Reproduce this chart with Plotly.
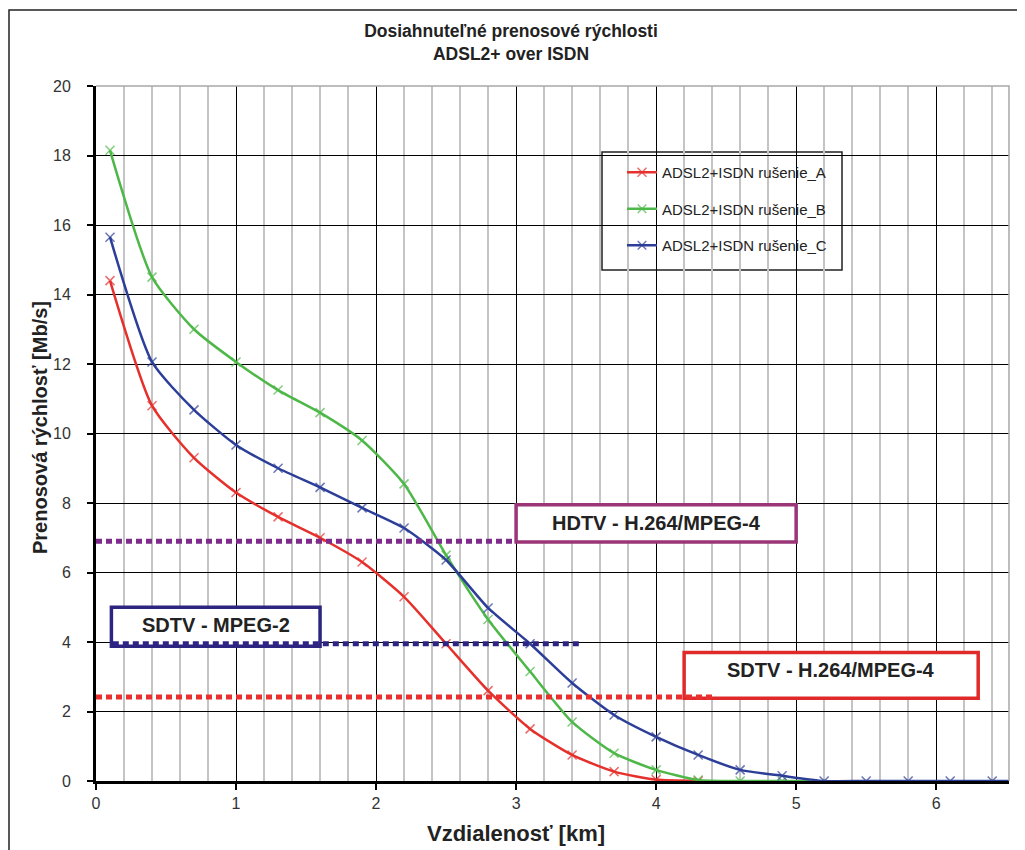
import plotly.graph_objects as go

# distance [km] and rate [Mb/s]
dist_a = [0.1, 0.4, 0.7, 1.0, 1.3, 1.6, 1.9, 2.2, 2.5, 2.8, 3.1, 3.4, 3.7, 4.0, 4.3]
rate_a = [14.4, 10.8, 9.3, 8.3, 7.6, 7.0, 6.3, 5.3, 3.95, 2.6, 1.5, 0.75, 0.27, 0.04, 0.0]

dist_b = [0.1, 0.4, 0.7, 1.0, 1.3, 1.6, 1.9, 2.2, 2.5, 2.8, 3.1, 3.4, 3.7, 4.0, 4.3, 4.6, 4.9, 5.1]
rate_b = [18.15, 14.5, 13.0, 12.06, 11.25, 10.6, 9.8, 8.55, 6.5, 4.65, 3.15, 1.7, 0.8, 0.32, 0.03, 0.0, 0.0, 0.0]

dist_c = [0.1, 0.4, 0.7, 1.0, 1.3, 1.6, 1.9, 2.2, 2.5, 2.8, 3.1, 3.4, 3.7, 4.0, 4.3,
          4.6, 4.9, 5.2, 5.5, 5.8, 6.1, 6.4, 6.6]
rate_c = [15.65, 12.06, 10.68, 9.67, 9.0, 8.45, 7.86, 7.28, 6.36, 4.98, 3.95, 2.82, 1.9,
          1.27, 0.75, 0.32, 0.15, 0.0, 0.0, 0.0, 0.0, 0.0, 0.0]

series_names = ["ADSL2+ISDN rušenie_A", "ADSL2+ISDN rušenie_B", "ADSL2+ISDN rušenie_C"]

# required rates for the services (label, rate, x start, x end)
service_labels = ["HDTV - H.264/MPEG-4", "SDTV - MPEG-2", "SDTV - H.264/MPEG-4"]
service_rates = [6.9, 3.95, 2.42]
service_from = [0.0, 0.12, 0.0]
service_to = [3.0, 3.47, 4.4]

colors = {
    "a": "#E5302C",
    "b": "#4DB848",
    "c": "#2C3E98",
}
service_line_colors = ["#7E2C8C", "#2E2483", "#E8302E"]
service_box_colors = ["#9B3577", "#2D2580", "#E02A2A"]
# label boxes (x0, x1, y0, y1) in data units, and text centre
service_boxes = [(3.0, 5.0, 6.88, 7.95), (0.11, 1.6, 3.88, 5.0), (4.2, 6.3, 2.38, 3.7)]
service_text = [(4.0, 7.42), (0.86, 4.49), (5.25, 3.19)]

FONT = "Liberation Sans, Arial, sans-serif"
W, H = 1025, 850
OFF = 8  # page body margin: screen px = figure px + 8
# plot area in screen pixels
X_LEFT, X_RIGHT, Y_TOP, Y_BOTTOM = 96, 1009, 86, 781
L, R = X_LEFT - OFF, W - (X_RIGHT - OFF)
T, B = Y_TOP - OFF, H - (Y_BOTTOM - OFF)
PW, PH = X_RIGHT - X_LEFT, Y_BOTTOM - Y_TOP


def px(x):
    return (x - X_LEFT) / PW


def py(y):
    return (Y_BOTTOM - y) / PH


fig = go.Figure()

curves = [
    (dist_a, rate_a, colors["a"], series_names[0]),
    (dist_b, rate_b, colors["b"], series_names[1]),
    (dist_c, rate_c, colors["c"], series_names[2]),
]
for i, (xs, ys, col, name) in enumerate(curves):
    sizes = [9] * len(xs)
    if name != series_names[0]:
        sizes[-1] = 0  # line runs on past the last marker
    fig.add_trace(go.Scatter(
        x=xs, y=ys, mode="lines+markers", name=name,
        legendgroup=name,
        line=dict(color=col, width=2.5, shape="spline", smoothing=0.6),
        marker=dict(symbol="x-thin", size=sizes, color=col, line=dict(color=col, width=1.5)),
    ))

# service threshold dotted lines
for i in range(3):
    fig.add_trace(go.Scatter(
        x=[service_from[i], service_to[i]],
        y=[service_rates[i], service_rates[i]],
        mode="lines", showlegend=False, hoverinfo="skip",
        line=dict(color=service_line_colors[i], width=5, dash="6px,4px"),
    ))

shapes = []
annotations = []
for i in range(3):
    x0, x1, y0, y1 = service_boxes[i]
    shapes.append(dict(
        type="rect", xref="x", yref="y", x0=x0, x1=x1, y0=y0, y1=y1,
        fillcolor="white", line=dict(color=service_box_colors[i], width=3.5),
        layer="between",
    ))
    tx, ty = service_text[i]
    annotations.append(dict(
        x=tx, y=ty, xref="x", yref="y", text="<b>%s</b>" % service_labels[i],
        showarrow=False, font=dict(family=FONT, size=20, color="#222222"),
    ))

# legend frame
shapes.append(dict(
    type="rect", xref="paper", yref="paper",
    x0=px(602), x1=px(842), y0=py(270), y1=py(152),
    fillcolor="white", line=dict(color="#222222", width=1.5), layer="between",
))
# light top / right border of plot area
shapes.append(dict(
    type="path", xref="paper", yref="paper",
    path="M 0,1 L 1,1 L 1,0", line=dict(color="#A8A8A8", width=1.5), layer="above",
))
# outer frame of the whole chart
shapes.append(dict(
    type="rect", xref="paper", yref="paper",
    x0=px(9), x1=px(1050), y0=py(880), y1=py(10),
    line=dict(color="#222222", width=1.5), fillcolor="rgba(0,0,0,0)", layer="below",
))

# axis titles
annotations.append(dict(
    x=3.0, y=py(833), xref="x", yref="paper", text="<b>Vzdialenosť [km]</b>",
    showarrow=False, font=dict(family=FONT, size=22, color="#222222"),
    xanchor="center", yanchor="middle",
))
annotations.append(dict(
    x=px(40), y=py(428), xref="paper", yref="paper",
    text="<b>Prenosová rýchlosť [Mb/s]</b>", textangle=-90,
    showarrow=False, font=dict(family=FONT, size=20, color="#222222"),
    xanchor="center", yanchor="middle",
))

fig.update_layout(
    width=W, height=H,
    title=dict(
        text="<b>Dosiahnuteľné prenosové rýchlosti<br>ADSL2+ over ISDN</b>",
        x=(511 - OFF) / W, xanchor="center", y=1 - 29 / H, yanchor="top",
        font=dict(family=FONT, size=17.5, color="#222222"),
    ),
    paper_bgcolor="white",
    plot_bgcolor="white",
    font=dict(family=FONT, size=16, color="#333333"),
    margin=dict(l=L, r=R, t=T, b=B, autoexpand=False),
    showlegend=True,
    legend=dict(
        x=px(622), y=py(156), xanchor="left", yanchor="top",
        bgcolor="rgba(0,0,0,0)", borderwidth=0,
        font=dict(family=FONT, size=15, color="#222222"),
        tracegroupgap=14,
    ),
    shapes=shapes,
    annotations=annotations,
)

fig.update_xaxes(
    range=[0, 6.52], dtick=1, tick0=0,
    showline=True, linecolor="black", linewidth=3,
    ticks="outside", ticklen=6, tickwidth=2, tickcolor="black",
    showgrid=True, gridcolor="black", gridwidth=1,
    minor=dict(dtick=0.2, tick0=0, showgrid=True, gridcolor="#C4C4C4", gridwidth=1.5),
    zeroline=False, tickfont=dict(size=16, color="#333333"),
)
fig.update_yaxes(
    range=[0, 20], dtick=2, tick0=0,
    showline=True, linecolor="black", linewidth=3,
    ticks="outside", ticklen=6, tickwidth=2, tickcolor="black",
    showgrid=True, gridcolor="black", gridwidth=1,
    zeroline=False, tickfont=dict(size=16, color="#333333"),
    ticklabelstandoff=13,
)

fig.write_html("out.html")
